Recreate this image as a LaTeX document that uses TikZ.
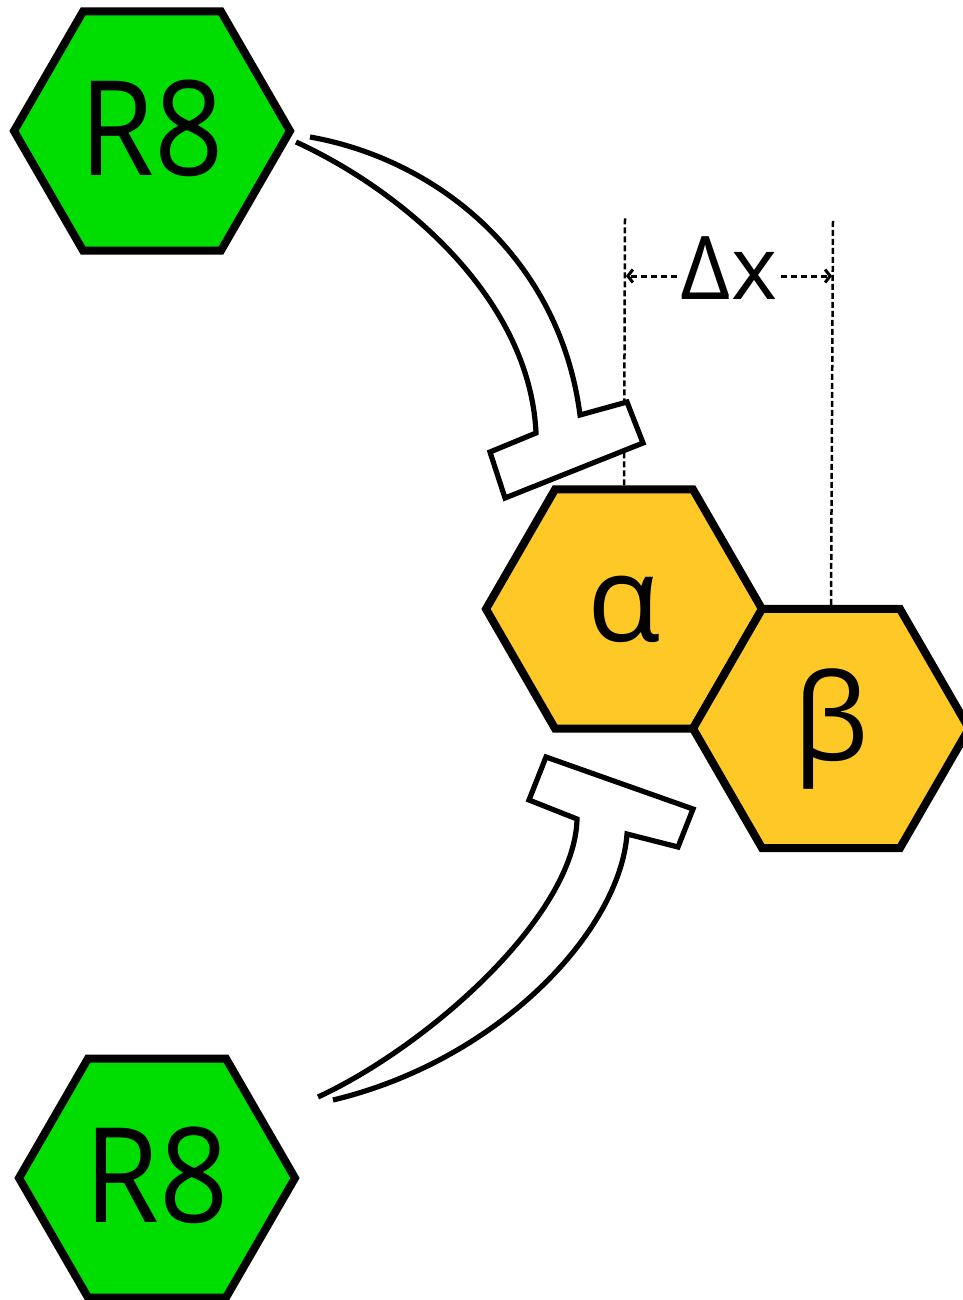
\documentclass[tikz,border=0pt]{standalone}
\usepackage{fontspec}
\setmainfont{Open Sans}
\newfontfamily\narrowsans[FakeStretch=0.92]{Open Sans}
\usetikzlibrary{arrows.meta,positioning,shapes.geometric}
\definecolor{rgreen}{RGB}{0,221,0}
\definecolor{subyellow}{RGB}{254,201,39}

\begin{document}
\begin{tikzpicture}[
  x=1pt,y=-1pt,
  hex/.style={regular polygon,regular polygon sides=6,minimum size=276pt,inner sep=0pt,draw,line width=8pt,line join=miter},
  rhex/.style={hex,fill=rgreen,font=\narrowsans\fontsize{132}{132}\selectfont},
  shex/.style={hex,fill=subyellow,font=\fontsize{120}{120}\selectfont},
  guide/.style={line width=2.5pt,dash pattern=on 6pt off 3pt},
  dim/.style={line width=3pt,dash pattern=on 6pt off 4pt,-{Straight Barb[length=5pt,width=13pt,line width=3pt]}},
  inhib/.style={draw,fill=white,line width=5.2pt,line join=miter}
]
\useasboundingbox (0,0) rectangle (962,1300);

\node[rhex] (r8top) at (152,131) {\raisebox{6pt}{R8}};
\node[rhex] (r8bot) at (157,1178) {\raisebox{6pt}{R8}};
\node[shex] (alpha) at (624,609) {α};
\node[shex] (beta) at (831,728.5) {β};

\coordinate (gala) at (625,218);
\coordinate (gbeta) at (833,220);
\coordinate (dxl) at (626,276);
\coordinate (dxr) at (832,276);
\node[font=\fontsize{88}{88}\selectfont,inner sep=4pt] (dx) at (729,268) {Δx};

\draw[guide] (alpha.north) -- (gala);
\draw[guide] (beta.north) -- (gbeta);
\draw[dim] (dx.west |- dxl) -- (dxl);
\draw[dim] (dx.east |- dxr) -- (dxr);

\draw[inhib] (296,142) .. controls (405,192) and (530,300) .. (536,433)
  -- (490,452) -- (505,498) -- (643,443) -- (627,402) -- (580,415)
  .. controls (560,260) and (440,160) .. (310,137);
\draw[inhib] (318,1097) .. controls (430,1045) and (575,915) .. (577,819)
  -- (529,800) -- (546,757) -- (693,809) -- (678,847) -- (627,834)
  .. controls (620,930) and (500,1060) .. (333,1100);
\end{tikzpicture}
\end{document}
